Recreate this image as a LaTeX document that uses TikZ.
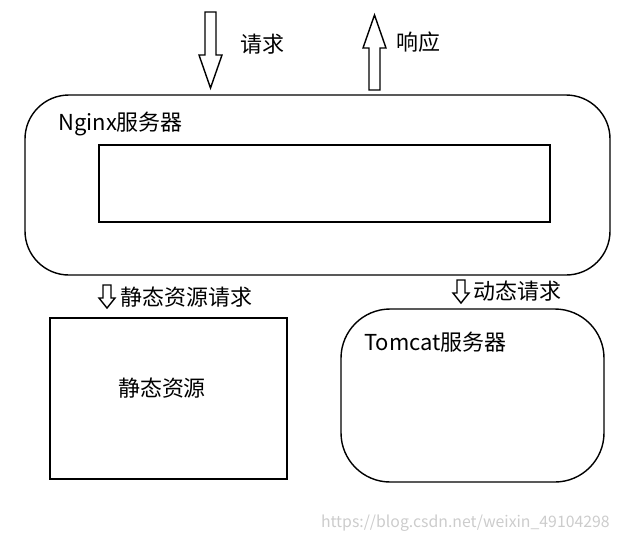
\documentclass[tikz,border=0pt]{standalone}
\usepackage{fontspec}
\setmainfont{Noto Sans CJK SC}
\tikzset{lbl/.style={font=\fontsize{12.5}{14}\selectfont, inner sep=0pt}}
\begin{document}
\begin{tikzpicture}[x=0.02cm,y=-0.02cm]
\useasboundingbox (0,0) rectangle (618,542);
% top arrows
\draw[thick] (205,12) -- (216,12) -- (216,55) -- (222,55) -- (210.5,88) -- (199,55) -- (205,55) -- cycle;
\node[lbl, anchor=west] (req) at (240,44) {请求};
\draw[thick] (369,90) -- (380,90) -- (380,48) -- (386,48) -- (374.5,15) -- (363,48) -- (369,48) -- cycle;
\node[lbl, anchor=west] (resp) at (396,42) {响应};
% nginx
\draw[thick, rounded corners=25] (25,95) rectangle (610,275);
\node[lbl, anchor=west] (nginx) at (58,124) {Nginx服务器};
\draw[thick] (99,145) rectangle (550,222);
% static
\draw[thick] (103,285) -- (111,285) -- (111,298) -- (115,298) -- (107,308) -- (99,298) -- (103,298) -- cycle;
\node[lbl, anchor=west] (sreq) at (120,297) {静态资源请求};
\draw[thick] (50,318) rectangle (287,479);
\node[lbl] (static) at (162,388) {静态资源};
% dynamic
\draw[thick] (457,280) -- (465,280) -- (465,293) -- (469,293) -- (461,303) -- (453,293) -- (457,293) -- cycle;
\node[lbl, anchor=west] (dreq) at (473,291) {动态请求};
\draw[thick, rounded corners=28] (341,309) rectangle (604,482);
\node[lbl, anchor=west] (tomcat) at (364,342) {Tomcat服务器};
\node[font=\fontsize{9}{10}\selectfont, text=gray!40, anchor=east, inner sep=0pt] (mark) at (610,523) {https://blog.csdn.net/weixin\_49104298};
\end{tikzpicture}
\end{document}
